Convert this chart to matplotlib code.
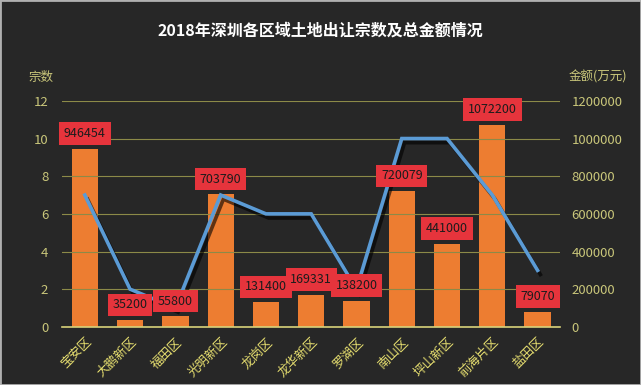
import matplotlib
matplotlib.use('Agg')
import matplotlib.pyplot as plt
import matplotlib.patheffects as pe

plt.rcParams['font.family'] = ['Noto Sans CJK SC', 'DejaVu Sans']

# data
districts = ['宝安区', '大鹏新区', '福田区', '光明新区', '龙岗区', '龙华新区',
             '罗湖区', '南山区', '坪山新区', '前海片区', '盐田区']
amounts = [946454, 35200, 55800, 703790, 131400, 169331, 138200, 720079, 441000, 1072200, 79070]
counts = [7, 2, 1, 7, 6, 6, 2, 10, 10, 7, 3]

bg = '#272727'
tick_col = '#c9c67a'
grid_col = '#8c8a48'

fig = plt.figure(figsize=(6.41, 3.85), dpi=100, facecolor=bg)
ax1 = fig.add_axes([0.097, 0.151, 0.777, 0.587])
ax2 = ax1.twinx()
ax1.set_zorder(ax2.get_zorder() + 1)
ax1.patch.set_visible(False)
ax2.set_facecolor(bg)

x = list(range(len(districts)))

# bars for amount (right axis)
ax2.bar(x, amounts, width=0.58, color='#ed7d31', zorder=2)
ax2.set_ylim(0, 1200000)
ax2.set_yticks(range(0, 1200001, 200000))
ax2.ticklabel_format(axis='y', style='plain', useOffset=False)

# line for counts (left axis)
ax1.plot(x, counts, color='#5b9bd5', lw=2.6, solid_joinstyle='miter',
         path_effects=[pe.SimpleLineShadow(offset=(2, -3), shadow_color='black', alpha=0.6),
                       pe.Normal()])
ax1.set_ylim(0, 12)
ax1.set_yticks(range(0, 13, 2))
ax1.set_xlim(-0.5, len(districts) - 0.5)
ax1.grid(axis='y', color=grid_col, lw=0.8)
ax1.set_axisbelow(True)

# value labels
for i, v in enumerate(amounts):
    ax1.annotate(str(v), xy=(i, v), xycoords=ax2.transData,
                 xytext=(0, 11), textcoords='offset points',
                 ha='center', va='center', fontsize=9, color='#1c1c1c',
                 bbox=dict(boxstyle='square,pad=0.38', fc='#e6343c', ec='none'),
                 zorder=10)

for ax in (ax1, ax2):
    for s in ax.spines.values():
        s.set_visible(False)
    ax.tick_params(length=0, colors=tick_col, labelsize=9.5)
ax2.tick_params(axis='y', pad=8)
ax1.tick_params(axis='y', pad=10)
ax1.spines['bottom'].set_visible(True)
ax1.spines['bottom'].set_color('#d8d27a')
ax1.spines['bottom'].set_linewidth(1.2)

ax1.set_xticks(x)
ax1.set_xticklabels(districts, rotation=45, ha='right', rotation_mode='anchor',
                    fontsize=9, color='#e8e070')
ax1.tick_params(axis='x', pad=6)

fig.text(0.5, 0.92, '2018年深圳各区域土地出让宗数及总金额情况', ha='center', va='center',
         fontsize=11.5, fontweight='bold', color='white')
fig.text(0.064, 0.8, '宗数', ha='center', va='center', fontsize=9, color=tick_col)
fig.text(0.978, 0.8, '金额(万元)', ha='right', va='center', fontsize=9, color=tick_col)

fig.patches.append(plt.Rectangle((0, 0), 1, 1, transform=fig.transFigure,
                                 fill=False, ec='#b0b0b0', lw=2))

fig.savefig('out.png', dpi=100, facecolor=bg)
